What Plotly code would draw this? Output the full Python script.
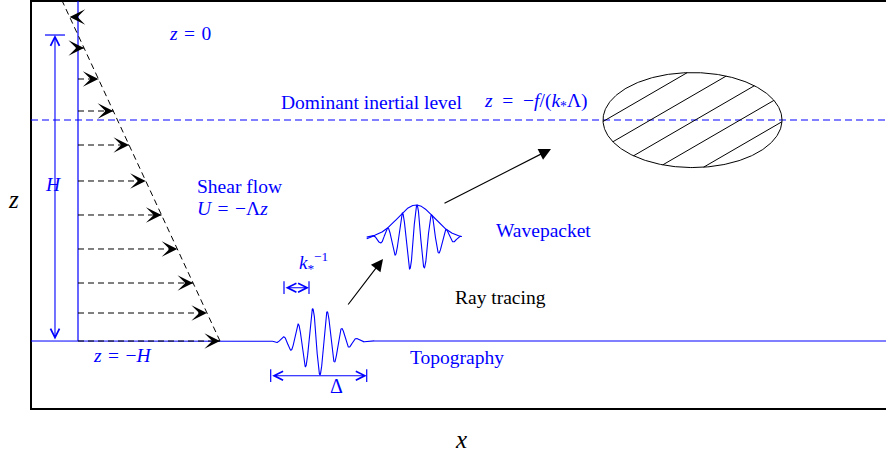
import numpy as np
import plotly.graph_objects as go

# ---- schematic coordinates: x and z scaled by the depth H (H = 1) ----
H = 1.0
LAMBDA = 0.464            # shear: U(z) = -LAMBDA * z  (drawn in x units)
Z_INERTIAL = -0.278       # dominant inertial level z = -f/(k* Lambda)
X_RANGE = [-0.2549, 2.6405]
Z_RANGE = [-1.3693, 0.1144]
FRAME_X = [2.75, -0.1536, -0.1536, 2.75]
FRAME_Z = [0.1111, 0.1111, -1.2222, -1.2222]
WALL_X = 0.0
LEFT_EDGE = -0.1536
RIGHT_EDGE = 2.75

# levels of the shear-flow arrows
ARROW_Z = [0.0588, -0.0425, -0.1438, -0.2484, -0.3595, -0.4771,
           -0.5882, -0.6993, -0.8105, -0.9085, -1.0]

# topographic wave packet
WAVELENGTH = 0.0484
TOPO_CENTER = 0.7843
TOPO_PHASE = 0.7908
TOPO_WIDTH = 0.0784
TOPO_AMP = 0.1111

# propagated wave packet
PACKET_CENTER = 1.1046
PACKET_PHASE = 1.1078
PACKET_WIDTH = 0.085
PACKET_AMP = 0.1078
PACKET_BASE = -0.6634
PACKET_X = [0.9435, 1.2539]

# critical-level ellipse
ELL_CENTER = [2.0082, -0.278]
ELL_AXES = [0.2925, 0.1552]
HATCH_SLOPE = 0.58
HATCH_OFFSETS = [0.165, 0.08, -0.005, -0.09, -0.175]

# ray-tracing arrows (tail, tip)
RAY_ARROWS = [((0.8791, -0.8856), (0.9967, -0.7320)),
              ((1.1928, -0.5523), (1.5458, -0.3725))]

# depth arrow, scale arrows
H_ARROW_X = -0.0752
H_BAR = [-0.1078, -0.0425]
K_ARROW = [0.6732, 0.7549, -0.8258]
DELTA_ARROW = [0.6297, 0.9435, -1.1134]
BAR_HALF = 0.021

# labels: (x, z, text, colour, anchor, size)
BLUE = "#0000ff"
SP = "\u2004"
LABELS = [
    (0.366, 0.0065, f"<i>z</i>{SP}={SP}0", BLUE, "center", 19.5),
    (0.1438, -1.049, f"<i>z</i>{SP}={SP}−<i>H</i>", BLUE, "center", 19.5),
    (0.3824, -0.4935, "Shear flow", BLUE, "left", 19.5),
    (0.3824, -0.5654, f"<i>U</i>{SP}={SP}−Λ<i>z</i>", BLUE, "left", 19.5),
    (0.6569, -0.219, "Dominant inertial level", BLUE, "left", 19.5),
    (1.3203, -0.219, f"<i>z</i>\u2002=\u2002−<i>f</i>/(<i>k</i><sub>*</sub>Λ)", BLUE, "left", 19.5),
    (1.3595, -0.6405, "Wavepacket", BLUE, "left", 19.5),
    (1.2255, -0.8562, "Ray tracing", "black", "left", 19.5),
    (1.0784, -1.0523, "Topography", BLUE, "left", 19.5),
    (-0.0817, -0.487, "<i>H</i>", BLUE, "center", 19.5),
    (0.768, -0.745, "<i>k</i><sub>*</sub><sup>−1</sup>", BLUE, "center", 19),
    (0.8454, -1.146, "Δ", BLUE, "center", 20),
    (-0.2092, -0.536, "<i>z</i>", "black", "center", 25),
    (1.2516, -1.3203, "<i>x</i>", "black", "center", 25),
]

FONT = "Liberation Serif"

fig = go.Figure()


def line(xs, zs, color, width=1.0, dash="solid"):
    fig.add_trace(go.Scatter(x=xs, y=zs, mode="lines", hoverinfo="skip",
                             line=dict(color=color, width=width, dash=dash),
                             showlegend=False))


# frame
line(FRAME_X, FRAME_Z, "black", 2.0)

# wall and inertial level
line([WALL_X, WALL_X], [FRAME_Z[0], -H], BLUE, 1.2)
line([LEFT_EDGE, RIGHT_EDGE], [Z_INERTIAL, Z_INERTIAL], BLUE, 1.1, "7px,4px")

# topography with wave packet
xt = np.linspace(LEFT_EDGE, RIGHT_EDGE, 4000)
env_t = np.exp(-((xt - TOPO_CENTER) / TOPO_WIDTH) ** 2)
zt = -H - TOPO_AMP * env_t * np.cos(2 * np.pi * (xt - TOPO_PHASE) / WAVELENGTH)
line(xt, zt, BLUE, 1.1)

# propagated wave packet and envelope
xp = np.linspace(PACKET_X[0], PACKET_X[1], 800)
env_p = np.exp(-((xp - PACKET_CENTER) / PACKET_WIDTH) ** 2)
line(xp, PACKET_BASE + PACKET_AMP * env_p * np.cos(2 * np.pi * (xp - PACKET_PHASE) / WAVELENGTH), BLUE, 1.1)
line(xp, PACKET_BASE + PACKET_AMP * env_p, BLUE, 1.1)

# shear profile line
zs = np.array([Z_RANGE[1], -H])
line(-LAMBDA * zs, zs, "black", 1.0, "6px,4px")

annotations = []

# shear-flow arrows
for z in ARROW_Z:
    tip = -LAMBDA * z
    line([WALL_X, tip], [z, z], "black", 1.0, "6px,4px")
    tail = tip - np.sign(tip) * 0.02
    annotations.append(dict(x=tip, y=z, ax=tail, ay=z, xref="x", yref="y",
                            axref="x", ayref="y", text="", showarrow=True,
                            arrowhead=3, arrowsize=2.6, arrowwidth=1.0,
                            arrowcolor="black"))

# ellipse with hatching
t = np.linspace(0, 2 * np.pi, 400)
a, b = ELL_AXES
xc, zc = ELL_CENTER
line(xc + a * np.cos(t), zc + b * np.sin(t), "black", 1.0)
for d in HATCH_OFFSETS:
    A2 = 1 / a ** 2 + HATCH_SLOPE ** 2 / b ** 2
    B2 = 2 * HATCH_SLOPE * d / b ** 2
    C2 = d ** 2 / b ** 2 - 1
    disc = B2 ** 2 - 4 * A2 * C2
    if disc <= 0:
        continue
    u1 = (-B2 - np.sqrt(disc)) / (2 * A2)
    u2 = (-B2 + np.sqrt(disc)) / (2 * A2)
    line([xc + u1, xc + u2], [zc + HATCH_SLOPE * u1 + d, zc + HATCH_SLOPE * u2 + d], "black", 1.0)

# ray-tracing arrows
for (tx, tz), (hx, hz) in RAY_ARROWS:
    annotations.append(dict(x=hx, y=hz, ax=tx, ay=tz, xref="x", yref="y",
                            axref="x", ayref="y", text="", showarrow=True,
                            arrowhead=2, arrowsize=2.0, arrowwidth=1.2,
                            arrowcolor="black"))

# depth arrow H
line(H_BAR, [0, 0], BLUE, 1.2)
annotations.append(dict(x=H_ARROW_X, y=0, ax=H_ARROW_X, ay=-H, xref="x", yref="y",
                        axref="x", ayref="y", text="", showarrow=True,
                        arrowside="end+start", arrowhead=5, startarrowhead=5,
                        arrowsize=1.6, startarrowsize=1.6, arrowwidth=1.1,
                        arrowcolor=BLUE))

# k*^-1 and Delta arrows with end bars
for x0, x1, z in (K_ARROW, DELTA_ARROW):
    line([x0, x0], [z - BAR_HALF, z + BAR_HALF], BLUE, 1.2)
    line([x1, x1], [z - BAR_HALF, z + BAR_HALF], BLUE, 1.2)
    annotations.append(dict(x=x1, y=z, ax=x0, ay=z, xref="x", yref="y",
                            axref="x", ayref="y", text="", showarrow=True,
                            arrowside="end+start", arrowhead=5, startarrowhead=5,
                            arrowsize=1.6, startarrowsize=1.6, arrowwidth=1.1,
                            arrowcolor=BLUE))

for x, z, txt, col, anchor, size in LABELS:
    annotations.append(dict(x=x, y=z, xref="x", yref="y", text=txt, showarrow=False,
                            xanchor=anchor, yanchor="middle",
                            font=dict(family=FONT, size=size, color=col)))

fig.update_layout(
    width=886, height=454,
    margin=dict(l=0, r=0, t=0, b=0),
    paper_bgcolor="white", plot_bgcolor="white",
    xaxis=dict(range=X_RANGE, visible=False, fixedrange=True),
    yaxis=dict(range=Z_RANGE, visible=False, fixedrange=True),
    annotations=annotations,
    showlegend=False,
)

fig.write_html("out.html", config={"displayModeBar": False},
               post_script="document.body.style.margin='0';document.body.style.overflow='hidden';")
